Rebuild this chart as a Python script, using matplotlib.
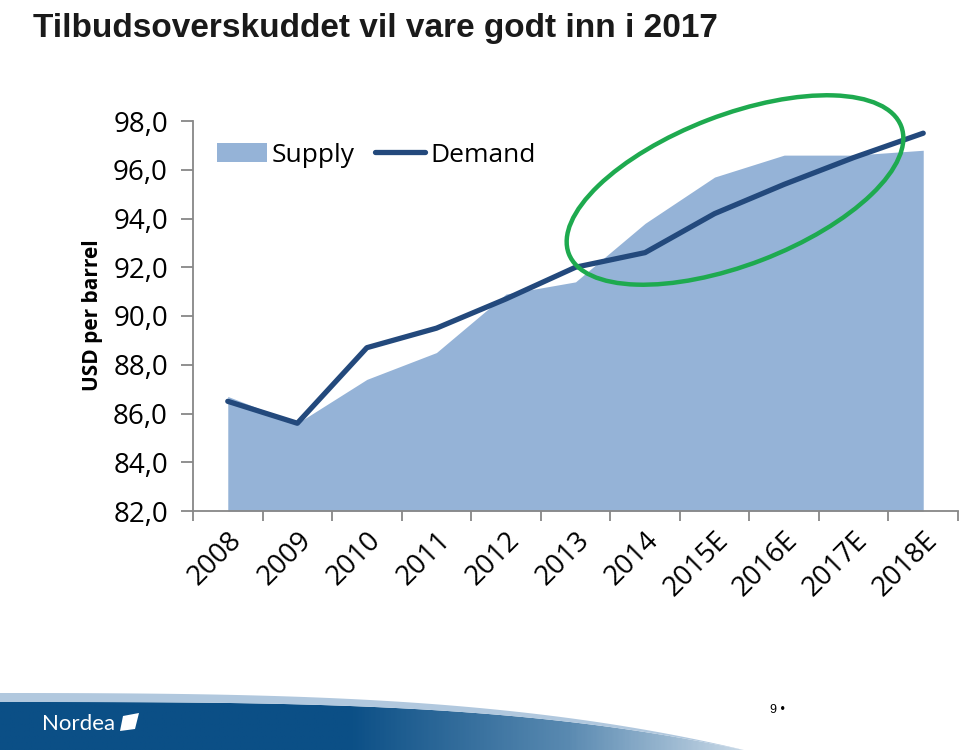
import matplotlib
matplotlib.use("Agg")
import matplotlib.pyplot as plt
import numpy as np
from matplotlib.patches import Ellipse, Polygon, Patch
from matplotlib.lines import Line2D
from matplotlib.transforms import IdentityTransform
from matplotlib.colors import LinearSegmentedColormap

plt.rcParams['font.family'] = ['Open Sans', 'DejaVu Sans']

# data
years = ['2008', '2009', '2010', '2011', '2012', '2013', '2014',
         '2015E', '2016E', '2017E', '2018E']
supply = [86.7, 85.6, 87.4, 88.5, 90.9, 91.4, 93.8, 95.7, 96.6, 96.6, 96.8]
demand = [86.5, 85.6, 88.7, 89.5, 90.7, 92.0, 92.6, 94.2, 95.4, 96.5, 97.5]
yticks = [82, 84, 86, 88, 90, 92, 94, 96, 98]

fill_col = '#95B3D7'
line_col = '#23497C'
axis_col = '#878787'

fig = plt.figure(figsize=(9.6, 7.5), dpi=100)

# footer background (swoosh)
bg = fig.add_axes([0, 0, 1, 1], zorder=-5)
bg.set_xlim(0, 960)
bg.set_ylim(750, 0)
bg.axis('off')

sx = np.linspace(0, 748, 60)
dark_top = 702 + 49 * (sx / 748) ** 3.3
light_top = dark_top - 9 * (1 - (sx / 748) ** 2)
band = Polygon(np.column_stack([np.r_[sx, sx[::-1]], np.r_[light_top, dark_top[::-1]]]),
               closed=True, facecolor='#B1C8DE', edgecolor='none')
bg.add_patch(band)
swoosh = Polygon(np.column_stack([np.r_[sx, 748, 0], np.r_[dark_top, 751, 751]]),
                 closed=True, facecolor='none', edgecolor='none')
bg.add_patch(swoosh)
grad_cmap = LinearSegmentedColormap.from_list(
    'nd', [(0, '#0B4F86'), (0.46, '#0B4F86'), (0.75, '#5A8AB1'), (1, '#D3E0EC')])
grad = np.tile(np.linspace(0, 1, 400), (10, 1))
im = bg.imshow(grad, cmap=grad_cmap, extent=[0, 760, 751, 690], aspect='auto')
im.set_clip_path(swoosh)
bg.text(42, 724, 'Nordea', color='white', fontsize=16,
        va='center', ha='left', family=['Lato', 'DejaVu Sans'])
bg.add_patch(Polygon([(123, 716), (139, 713), (135, 729), (120, 731)],
                     closed=True, facecolor='white', edgecolor='none'))
bg.text(770, 710, '9 \u2022', fontsize=9, va='center', ha='left',
        family=['Liberation Sans', 'DejaVu Sans'])

# title
fig.text(0.034, 0.982, 'Tilbudsoverskuddet vil vare godt inn i 2017',
         fontsize=24, fontweight='bold', va='top', ha='left', color='#1a1a1a',
         family=['Liberation Sans', 'DejaVu Sans'])

# main chart
ax = fig.add_axes([193 / 960, 1 - 511 / 750, (958 - 193) / 960, (511 - 121) / 750])
x = np.arange(len(years))
ax.fill_between(x, 82, supply, color=fill_col, lw=0, zorder=1)
ax.plot(x, demand, color=line_col, lw=3.8, solid_capstyle='round', zorder=2)

ax.set_xlim(-0.5, len(years) - 0.5)
ax.set_ylim(82, 98)
ax.set_yticks(yticks)
ax.set_yticklabels([f'{v:.1f}'.replace('.', ',') for v in yticks], fontsize=20)
ax.tick_params(axis='y', direction='out', length=9, width=1.3, color=axis_col, pad=9)

ax.set_xticks(x)
ax.set_xticklabels(years, rotation=45, ha='right', va='top',
                   rotation_mode='anchor', fontsize=20)
ax.tick_params(axis='x', length=0, pad=11)
ax.set_xticks(np.arange(-0.5, len(years), 1), minor=True)
ax.tick_params(axis='x', which='minor', direction='out', length=7, width=1.3,
               color=axis_col)

for s in ['top', 'right']:
    ax.spines[s].set_visible(False)
for s in ['left', 'bottom']:
    ax.spines[s].set_color(axis_col)
    ax.spines[s].set_linewidth(1.3)

fig.text(0.096, 0.58, 'USD per barrel', rotation=90, fontsize=15,
         fontweight='bold', ha='center', va='center')

handles = [Patch(facecolor=fill_col, edgecolor='none'),
           Line2D([0], [0], color=line_col, lw=3.8, solid_capstyle='round')]
fig.legend(handles, ['Supply', 'Demand'], loc='center left',
           bbox_to_anchor=(206 / 960, 1 - 155 / 750), ncol=2, frameon=False,
           fontsize=19, handlelength=1.9, handleheight=0.7, handletextpad=0.2,
           columnspacing=0.75, borderaxespad=0)

# green highlight ellipse
fig.add_artist(Ellipse((735, 750 - 190), 356, 150, angle=21, fill=False,
                       edgecolor='#1EAA4F', lw=3.2, transform=IdentityTransform()))

fig.savefig('out.png', dpi=100)
